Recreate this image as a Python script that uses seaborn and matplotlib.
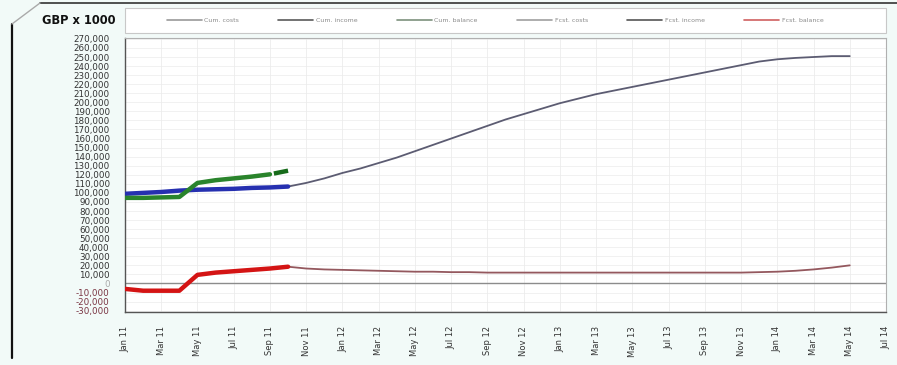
import matplotlib
matplotlib.use("Agg")
import matplotlib.pyplot as plt
from matplotlib.lines import Line2D
from matplotlib.patches import Rectangle
import seaborn as sns

# month index 0 = Jan 11
months_actual = [0, 1, 2, 3, 4, 5, 6, 7, 8, 9]
costs_actual = [99000, 100000, 101000, 102500, 103500, 104000, 104500, 105500, 106000, 107000]
income_actual = [94500, 94500, 95000, 95500, 111000, 114000, 116000, 118000, 120500]
income_fcst_months = [8, 9]
income_fcst = [120500, 124500]
balance_actual = [-6000, -8000, -8000, -8000, 9500, 12000, 13500, 15000, 16500, 18500]

months_fcst = list(range(9, 41))
total_fcst = [107000, 111000, 116000, 122000, 127000, 133000, 139000, 146000, 153000,
              160000, 167000, 174000, 181000, 187000, 193000, 199000, 204000, 209000,
              213000, 217000, 221000, 225000, 229000, 233000, 237000, 241000, 245000,
              247500, 249000, 250000, 251000, 251000]
balance_fcst = [18500, 16500, 15500, 15000, 14500, 14000, 13500, 13000, 13000, 12500,
                12500, 12000, 12000, 12000, 12000, 12000, 12000, 12000, 12000, 12000,
                12000, 12000, 12000, 12000, 12000, 12000, 12500, 13000, 14000, 15500,
                17500, 20000]

tick_months = list(range(0, 43, 2))
month_names = ["Jan", "Mar", "May", "Jul", "Sep", "Nov"]
tick_labels = [f"{month_names[(m % 12) // 2]} {11 + m // 12}" for m in tick_months]
y_ticks = list(range(-30000, 270001, 10000))

legend_labels = ["Cum. costs", "Cum. income", "Cum. balance",
                 "Fcst. costs", "Fcst. income", "Fcst. balance"]
legend_colors = ["#9a9a9a", "#5a5a5a", "#7d917d", "#a0a0a0", "#555555", "#d06060"]

W, H = 897, 365
fig = plt.figure(figsize=(W / 100, H / 100), dpi=100, facecolor="#f2faf8")
sns.set_style("white")
plt.rcParams['font.family'] = ['DejaVu Sans']

ax = fig.add_axes([125 / W, 1 - 312 / H, (886 - 125) / W, (312 - 38) / H])
ax.set_facecolor("white")

for yv in y_ticks:
    ax.axhline(yv, color="#efefef", lw=0.6, zorder=0)
for xm in tick_months:
    ax.axvline(xm, color="#ececec", lw=0.6, zorder=0)
ax.axhline(0, color="#8c8c8c", lw=1.0, zorder=1)

sns.lineplot(x=months_fcst, y=total_fcst, ax=ax, color="#5c5c72", lw=1.3, zorder=3)
sns.lineplot(x=months_fcst, y=balance_fcst, ax=ax, color="#94585e", lw=1.3, zorder=3)
sns.lineplot(x=months_actual, y=costs_actual, ax=ax, color="#2630b0", lw=3.2, zorder=4)
sns.lineplot(x=months_actual[:len(income_actual)], y=income_actual, ax=ax,
             color="#2a842c", lw=3.2, zorder=4)
sns.lineplot(x=income_fcst_months, y=income_fcst, ax=ax, color="#176b1a", lw=3.2,
             linestyle=(3.4, (3.4, 0.9)), zorder=4)
sns.lineplot(x=months_actual, y=balance_actual, ax=ax, color="#d41414", lw=3.2, zorder=4)

ax.set_xlim(0, 42)
ax.set_ylim(-31500, 271000)
ax.set_xticks(tick_months)
ax.set_xticklabels(tick_labels, rotation=90, fontsize=6, color="#333333")
ax.set_yticks(y_ticks)
ax.set_yticklabels([f"{v:,}" for v in y_ticks], fontsize=6.3, color="#333333")
for lab, v in zip(ax.get_yticklabels(), y_ticks):
    if v < 0:
        lab.set_color("#7a3442")
    elif v == 0:
        lab.set_color("#aaaaaa")
ax.tick_params(axis="y", length=0, pad=11)
ax.tick_params(axis="x", length=2, color="#888888", pad=8)
ax.set_xlabel("")
ax.set_ylabel("")
for side in ["left", "bottom"]:
    ax.spines[side].set_color("#555555")
    ax.spines[side].set_linewidth(1.0)
for side in ["top", "right"]:
    ax.spines[side].set_color("#b0b0b0")
    ax.spines[side].set_linewidth(0.8)

# legend box across the top
fig.add_artist(Rectangle((125 / W, 1 - 33 / H), (886 - 125) / W, 25 / H,
                         transform=fig.transFigure, facecolor="white",
                         edgecolor="#c8c8c8", lw=0.8))
handles = [Line2D([0], [0], color=c, lw=1.2) for c in legend_colors]
leg = fig.legend(handles, legend_labels, loc="center", ncol=6,
                 bbox_to_anchor=(495 / W, 1 - 20.5 / H),
                 fontsize=4.5, frameon=False, handlelength=5.6, handletextpad=0.4,
                 columnspacing=6.3, labelcolor="#8a8a8a")

fig.text(42 / W, 1 - 20 / H, "GBP x 1000", fontsize=8.3, fontweight="bold",
         va="center", ha="left", color="#111111")

# outer chart frame
fig.add_artist(Line2D([12 / W, 12 / W], [1 - 358 / H, 1 - 24 / H], color="#111111", lw=1.6))
fig.add_artist(Line2D([40 / W, 1.0], [1 - 3 / H, 1 - 3 / H], color="#333333", lw=1.2))
fig.add_artist(Line2D([12 / W, 40 / W], [1 - 24 / H, 1 - 3 / H], color="#aaaaaa", lw=1.0))

fig.savefig("out.png", dpi=100, facecolor=fig.get_facecolor())
